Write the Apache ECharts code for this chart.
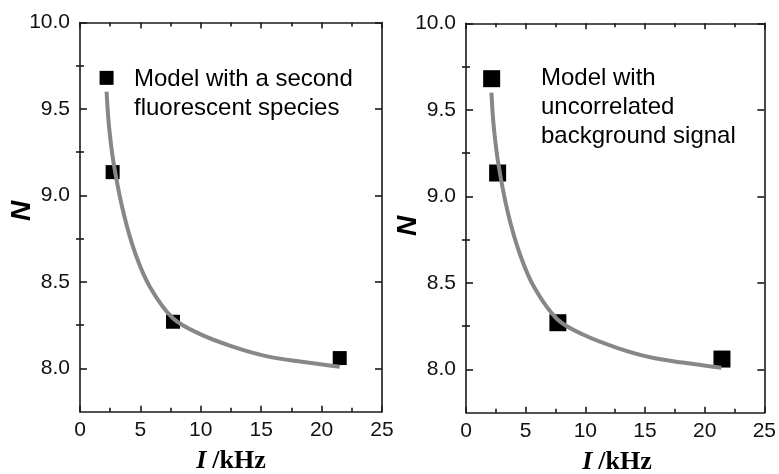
<!DOCTYPE html>
<html>
<head>
<meta charset="utf-8">
<script src="https://cdn.jsdelivr.net/npm/echarts@6/dist/echarts.min.js"></script>
<style>html,body{margin:0;padding:0;background:#fff}#c{width:779px;height:474px}</style>
</head>
<body>
<div id="c"></div>
<script>
// ---- data ----
const xTickValues = [0, 5, 10, 15, 20, 25];
const yLabelValues = [8.0, 8.5, 9.0, 9.5, 10.0];
const yMinorValues = [8.25, 8.75, 9.25, 9.75];

const leftI = [2.2, 2.7, 7.7, 21.5];
const leftN = [9.68, 9.135, 8.27, 8.06];
const rightI = [2.15, 2.65, 7.7, 21.45];
const rightN = [9.68, 9.135, 8.27, 8.06];

const fitLeftI = [2.2, 2.4, 2.8, 3.6, 4.6, 5.8, 7.7, 9.9, 12.7, 15.5, 18.2, 21.5];
const fitLeftN = [9.60, 9.40, 9.18, 8.90, 8.66, 8.47, 8.29, 8.20, 8.125, 8.07, 8.04, 8.01];
const fitRightI = [2.13, 2.33, 2.73, 3.53, 4.55, 5.75, 7.65, 9.85, 12.65, 15.45, 18.15, 21.4];
const fitRightN = [9.60, 9.40, 9.18, 8.90, 8.66, 8.47, 8.29, 8.20, 8.125, 8.07, 8.04, 8.01];

const noteLeft = 'Model with a second\nfluorescent species';
const noteRight = 'Model with\nuncorrelated\nbackground signal';

// ---- chart ----
const zip = (a, b) => a.map((v, i) => [v, b[i]]);
const FONT = '"Liberation Sans", Arial, sans-serif';
const SERIF = '"Liberation Serif", "Times New Roman", serif';
const lineStyle = { color: '#1a1a1a', width: 1.6 };

const grids = [
  { left: 80, right: 397, top: 22.5, bottom: 62.3 },
  { left: 466, right: 11.3, top: 23.3, bottom: 61.3 }
];

const xAxes = [], yAxes = [];
grids.forEach((g, gi) => {
  xAxes.push({
    type: 'value', gridIndex: gi, position: 'bottom', min: 0, max: 25, interval: 5,
    axisLine: { show: true, onZero: false, lineStyle },
    axisTick: { show: true, inside: true, length: 6, lineStyle },
    minorTick: { show: true, splitNumber: 2, length: 4, lineStyle },
    axisLabel: { color: '#111', fontSize: 21, fontFamily: FONT, margin: 8, showMinLabel: true, showMaxLabel: true },
    splitLine: { show: false }
  });
  xAxes.push({
    type: 'value', gridIndex: gi, position: 'top', min: 0, max: 25, interval: 5,
    axisLine: { show: true, onZero: false, lineStyle },
    axisTick: { show: true, inside: true, length: 6, lineStyle },
    minorTick: { show: true, splitNumber: 2, length: 4, lineStyle },
    axisLabel: { show: false },
    splitLine: { show: false }
  });
  ['left', 'right'].forEach((pos) => {
    yAxes.push({
      type: 'value', gridIndex: gi, position: pos, min: 7.75, max: 10,
      axisLine: { show: true, onZero: false, lineStyle },
      axisTick: { show: true, inside: true, length: 7, lineStyle, customValues: yLabelValues },
      axisLabel: {
        show: pos === 'left', customValues: yLabelValues, color: '#111', fontSize: 21, fontFamily: FONT, margin: 10,
        formatter: (v) => v.toFixed(1)
      },
      splitLine: { show: false }
    });
    yAxes.push({
      type: 'value', gridIndex: gi, position: pos, min: 7.75, max: 10,
      axisLine: { show: false },
      axisTick: { show: true, inside: true, length: 4, lineStyle, customValues: yMinorValues },
      axisLabel: { show: false, customValues: yMinorValues },
      splitLine: { show: false }
    });
  });
});

const series = [
  { type: 'scatter', xAxisIndex: 0, yAxisIndex: 0, symbol: 'rect', symbolSize: 14,
    itemStyle: { color: '#000', opacity: 1 }, data: zip(leftI, leftN), z: 2 },
  { type: 'line', xAxisIndex: 0, yAxisIndex: 0, showSymbol: false, smooth: 0.35,
    lineStyle: { color: '#878787', width: 4 }, data: zip(fitLeftI, fitLeftN), z: 3 },
  { type: 'scatter', xAxisIndex: 2, yAxisIndex: 4, symbol: 'rect', symbolSize: 17,
    itemStyle: { color: '#000', opacity: 1 }, data: zip(rightI, rightN), z: 2 },
  { type: 'line', xAxisIndex: 2, yAxisIndex: 4, showSymbol: false, smooth: 0.35,
    lineStyle: { color: '#878787', width: 4 }, data: zip(fitRightI, fitRightN), z: 3 }
];

const noteStyle = { fill: '#000', font: '24px ' + FONT, lineHeight: 29 };
const titleRich = {
  i: { fontFamily: SERIF, fontStyle: 'italic', fontWeight: 'bold', fontSize: 26, fill: '#000' },
  s: { fontFamily: SERIF, fontSize: 24, fill: '#000' },
  n: { fontFamily: SERIF, fontWeight: 'bold', fontSize: 26, fill: '#000' }
};
const graphic = [
  { type: 'text', left: 134, top: 64.5, style: Object.assign({ text: noteLeft }, noteStyle) },
  { type: 'text', left: 541, top: 64, style: Object.assign({ text: noteRight }, noteStyle) },
  { type: 'text', x: 22, y: 211, rotation: Math.PI / 2,
    style: { text: 'N', fill: '#000', font: 'italic bold 28px ' + FONT, align: 'center', verticalAlign: 'middle' } },
  { type: 'text', x: 408, y: 226, rotation: Math.PI / 2,
    style: { text: 'N', fill: '#000', font: 'italic bold 28px ' + FONT, align: 'center', verticalAlign: 'middle' } },
  { type: 'text', x: 231, y: 461,
    style: { text: '{i|I}{s| }{n|/kHz}', align: 'center', verticalAlign: 'middle', rich: titleRich } },
  { type: 'text', x: 617, y: 462,
    style: { text: '{i|I}{s| }{n|/kHz}', align: 'center', verticalAlign: 'middle', rich: titleRich } }
];

const chart = echarts.init(document.getElementById('c'), null, { renderer: 'canvas' });
chart.setOption({
  animation: false,
  backgroundColor: '#fff',
  grid: grids,
  xAxis: xAxes,
  yAxis: yAxes,
  series,
  graphic
});
</script>
</body>
</html>
